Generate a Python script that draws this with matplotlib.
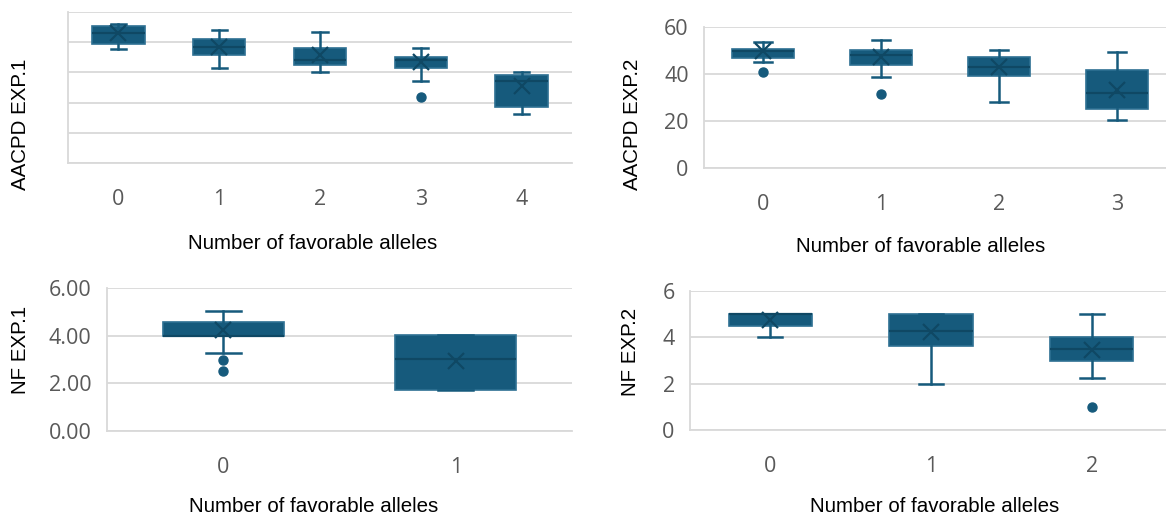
import matplotlib
matplotlib.use("Agg")
import matplotlib.pyplot as plt

W, H = 1166, 515

# AACPD EXP.1 (axis values hidden in the original, 0-50 scale assumed)
exp1_cats = ["0", "1", "2", "3", "4"]
exp1_whishi = [45.9, 44.1, 43.5, 38.1, 30.2]
exp1_q3 = [45.3, 41.1, 38.1, 35.2, 29.2]
exp1_med = [43.2, 38.4, 34.2, 34.1, 27.3]
exp1_q1 = [39.3, 35.9, 32.4, 31.4, 18.7]
exp1_whislo = [37.6, 31.6, 30.2, 27.3, 16.3]
exp1_mean = [42.9, 38.5, 35.7, 33.5, 25.5]
exp1_fliers = [[], [], [], [22.0], []]

# AACPD EXP.2
exp2_cats = ["0", "1", "2", "3"]
exp2_whishi = [53.7, 54.4, 50.4, 49.2]
exp2_q3 = [50.7, 50.0, 47.4, 41.7]
exp2_med = [49.8, 48.1, 43.1, 31.9]
exp2_q1 = [47.0, 43.9, 39.1, 25.3]
exp2_whislo = [44.9, 38.9, 28.1, 20.3]
exp2_mean = [49.6, 47.4, 42.9, 33.1]
exp2_fliers = [[41.0], [31.4], [], []]

# NF EXP.1
nf1_cats = ["0", "1"]
nf1_whishi = [5.02, 4.04]
nf1_q3 = [4.56, 4.04]
nf1_med = [4.0, 3.02]
nf1_q1 = [4.0, 1.73]
nf1_whislo = [3.27, 1.73]
nf1_mean = [4.25, 2.92]
nf1_fliers = [[3.0, 2.5], []]

# NF EXP.2
nf2_cats = ["0", "1", "2"]
nf2_whishi = [5.0, 5.0, 5.0]
nf2_q3 = [5.0, 5.0, 4.01]
nf2_med = [5.0, 4.27, 3.51]
nf2_q1 = [4.5, 3.64, 2.96]
nf2_whislo = [4.0, 2.0, 2.26]
nf2_mean = [4.75, 4.23, 3.47]
nf2_fliers = [[], [], [0.99]]

FILL = "#165a7c"
EDGE = "#2d7092"
DARK = "#0f4864"
GRID = "#d9d9d9"
TICK = "#595959"

plt.rcParams["font.family"] = ["Open Sans", "DejaVu Sans"]


def stats_list(whislo, q1, med, q3, whishi, mean, fliers):
    out = []
    for i in range(len(med)):
        out.append(dict(whislo=whislo[i], q1=q1[i], med=med[i], q3=q3[i],
                        whishi=whishi[i], mean=mean[i], fliers=fliers[i]))
    return out


def box_panel(ax, cats, stats, ymax, yticks, ylabels):
    n = len(cats)
    ax.bxp(stats, positions=range(n), widths=0.52, capwidths=0.15,
           patch_artist=True, showmeans=True, manage_ticks=False,
           boxprops=dict(facecolor=FILL, edgecolor=EDGE, linewidth=1.2),
           whiskerprops=dict(color=FILL, linewidth=1.8),
           capprops=dict(color=FILL, linewidth=1.8),
           medianprops=dict(color=DARK, linewidth=1.6),
           meanprops=dict(marker="x", markeredgecolor=DARK, markersize=12,
                          markeredgewidth=1.6),
           flierprops=dict(marker="o", markerfacecolor=FILL,
                           markeredgecolor=FILL, markersize=6.5))
    ax.set_xlim(-0.5, n - 0.5)
    ax.set_ylim(0, ymax)
    ax.set_xticks(range(n))
    ax.set_xticklabels(cats)
    ax.set_yticks(yticks)
    ax.set_yticklabels(ylabels)
    ax.yaxis.grid(True, color=GRID, linewidth=1.3)
    ax.set_axisbelow(True)
    for s in ["top", "right"]:
        ax.spines[s].set_visible(False)
    for s in ["left", "bottom"]:
        ax.spines[s].set_color(GRID)
        ax.spines[s].set_linewidth(1.3)
    ax.tick_params(axis="x", length=0, pad=19, labelsize=15.5, labelcolor=TICK)
    ax.tick_params(axis="y", length=0, pad=11, labelsize=15.5, labelcolor=TICK)


def rect(left, top, right, bottom):
    return [left / W, 1 - bottom / H, (right - left) / W, (bottom - top) / H]


fig = plt.figure(figsize=(W / 100, H / 100), dpi=100)

ax1 = fig.add_axes(rect(68, 12, 572, 163))
box_panel(ax1, exp1_cats,
          stats_list(exp1_whislo, exp1_q1, exp1_med, exp1_q3, exp1_whishi, exp1_mean, exp1_fliers),
          50, [0, 10, 20, 30, 40, 50], [])
ax1.tick_params(axis="y", labelleft=False)

ax2 = fig.add_axes(rect(704, 27, 1176, 168))
box_panel(ax2, exp2_cats,
          stats_list(exp2_whislo, exp2_q1, exp2_med, exp2_q3, exp2_whishi, exp2_mean, exp2_fliers),
          60, [0, 20, 40, 60], ["0", "20", "40", "60"])

ax3 = fig.add_axes(rect(107, 288, 572, 431))
box_panel(ax3, nf1_cats,
          stats_list(nf1_whislo, nf1_q1, nf1_med, nf1_q3, nf1_whishi, nf1_mean, nf1_fliers),
          6, [0, 2, 4, 6], ["0.00", "2.00", "4.00", "6.00"])

ax4 = fig.add_axes(rect(690, 291, 1172, 430))
box_panel(ax4, nf2_cats,
          stats_list(nf2_whislo, nf2_q1, nf2_med, nf2_q3, nf2_whishi, nf2_mean, nf2_fliers),
          6, [0, 2, 4, 6], ["0", "2", "4", "6"])

lab = dict(family=["Liberation Sans", "DejaVu Sans"], fontsize=14.8, color="black",
           ha="center", va="center")
fig.text(21 / W, 1 - 124 / H, "AACPD EXP.1", rotation=90, **lab)
fig.text(632 / W, 1 - 124 / H, "AACPD EXP.2", rotation=90, **lab)
fig.text(21 / W, 1 - 350 / H, "NF EXP.1", rotation=90, **lab)
fig.text(630 / W, 1 - 352 / H, "NF EXP.2", rotation=90, **lab)
fig.text(313 / W, 1 - 243 / H, "Number of favorable alleles", **lab)
fig.text(921 / W, 1 - 247 / H, "Number of favorable alleles", **lab)
fig.text(314 / W, 1 - 507 / H, "Number of favorable alleles", **lab)
fig.text(935 / W, 1 - 507 / H, "Number of favorable alleles", **lab)

fig.savefig("out.png", dpi=100)
